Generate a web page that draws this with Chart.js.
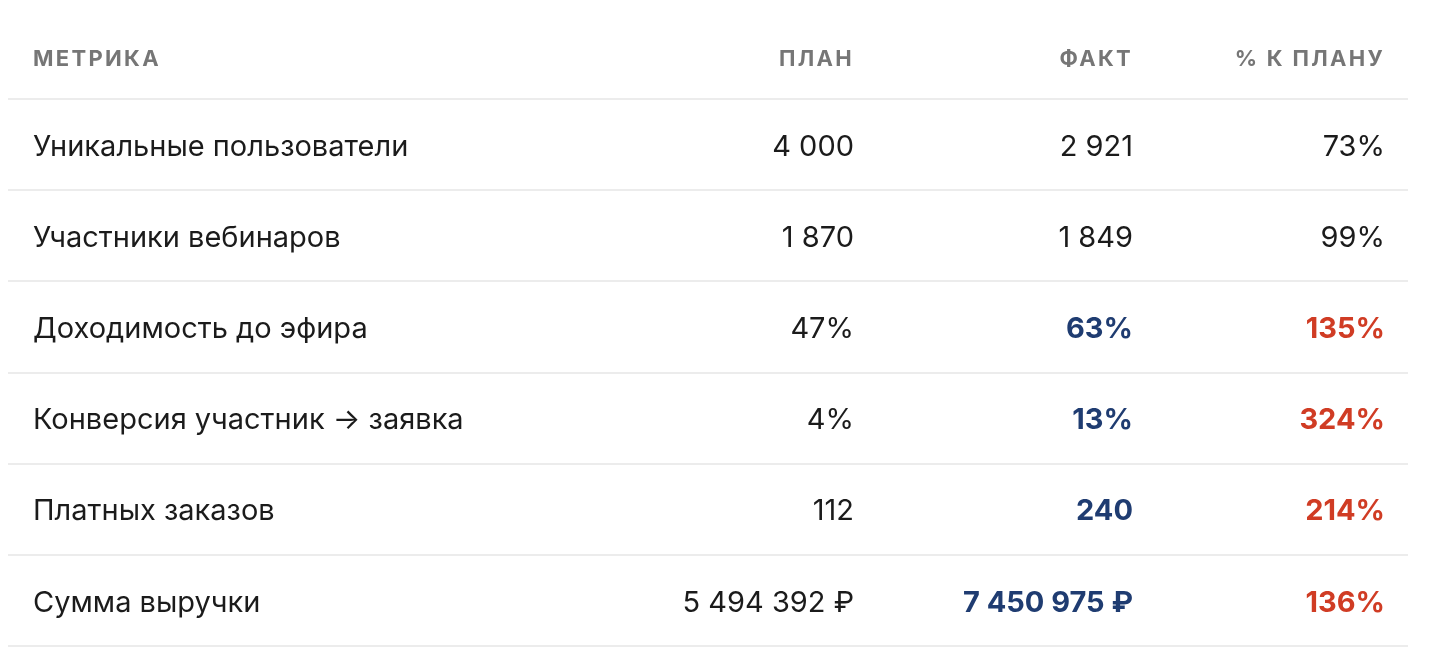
<!DOCTYPE html>
<html><head><meta charset="utf-8">
<script src="https://cdn.jsdelivr.net/npm/chart.js@4.4.1/dist/chart.umd.min.js"></script>
<style>html,body{margin:0;padding:0;background:#fff;}#wrap{width:1446px;height:670px;position:relative;}</style>
</head><body><div id="wrap"><canvas id="c"></canvas></div>
<script>
// ---- data ----
const columns = ['МЕТРИКА', 'ПЛАН', 'ФАКТ', '% К ПЛАНУ'];
const metrics = [
  'Уникальные пользователи',
  'Участники вебинаров',
  'Доходимость до эфира',
  'Конверсия участник → заявка',
  'Платных заказов',
  'Сумма выручки'
];
const planValues = [4000, 1870, 47, 4, 112, 5494392];
const factValues = [2921, 1849, 63, 13, 240, 7450975];
const percentToPlan = [73, 99, 135, 324, 214, 136];
const units = ['', '', '%', '%', '', ' ₽'];

// ---- styles / layout ----
const FONT = 'Inter, "Noto Sans", sans-serif';
const COLORS = { header: '#767676', text: '#1b1b1b', fact: '#1f3c71', pct: '#d03c24', rule: '#ececec' };
const columnLayout = [
  { align: 'left', offset: 25 },     // from chart left
  { align: 'right', offset: 846 },   // from chart left
  { align: 'right', offset: 1125 },  // from chart left
  { align: 'right', offset: -23 }    // from chart right
];

function fmt(v, unit) {
  return String(v).replace(/\B(?=(\d{3})+(?!\d))/g, ' ') + unit;
}

const tablePlugin = {
  id: 'tableText',
  afterDraw(chart) {
    const { ctx, chartArea, scales } = chart;
    const yS = scales.y;
    const colX = columnLayout.map(c => c.offset >= 0 ? chartArea.left + c.offset : chartArea.right + c.offset);
    ctx.save();
    ctx.textBaseline = 'middle';
    // header
    ctx.font = '700 22px ' + FONT;
    ctx.fillStyle = COLORS.header;
    ctx.letterSpacing = '2.3px';
    const headerY = yS.getPixelForValue(-0.5) - 39.5;
    columns.forEach((c, i) => {
      ctx.textAlign = columnLayout[i].align;
      ctx.fillText(c, colX[i], headerY);
    });
    ctx.letterSpacing = '0px';
    // rows
    const labels = chart.data.labels;
    labels.forEach((m, r) => {
      const y = yS.getPixelForValue(r) + 2.5;
      const over = percentToPlan[r] > 100;
      ctx.font = '400 29px ' + FONT;
      ctx.fillStyle = COLORS.text;
      ctx.textAlign = 'left';
      ctx.fillText(m, colX[0], y);
      ctx.textAlign = 'right';
      ctx.fillText(fmt(planValues[r], units[r]), colX[1], y);
      ctx.font = (over ? '700' : '400') + ' 29px ' + FONT;
      ctx.fillStyle = over ? COLORS.fact : COLORS.text;
      ctx.fillText(fmt(factValues[r], units[r]), colX[2], y);
      ctx.fillStyle = over ? COLORS.pct : COLORS.text;
      ctx.fillText(percentToPlan[r] + '%', colX[3], y);
    });
    ctx.restore();
  }
};

new Chart(document.getElementById('c'), {
  type: 'bar',
  data: {
    labels: metrics,
    datasets: [{ label: '% к плану', data: percentToPlan, backgroundColor: 'rgba(0,0,0,0)', borderWidth: 0 }]
  },
  options: {
    indexAxis: 'y',
    responsive: true,
    maintainAspectRatio: false,
    animation: false,
    events: [],
    layout: { padding: { top: 99, left: 8, right: 38, bottom: 24 } },
    plugins: { legend: { display: false }, tooltip: { enabled: false } },
    scales: {
      x: { display: false, min: 0, max: 400 },
      y: {
        type: 'category',
        offset: true,
        border: { display: false },
        ticks: { display: false },
        grid: { offset: true, color: COLORS.rule, lineWidth: 2, drawTicks: false }
      }
    }
  },
  plugins: [tablePlugin]
});
</script>
</body></html>
